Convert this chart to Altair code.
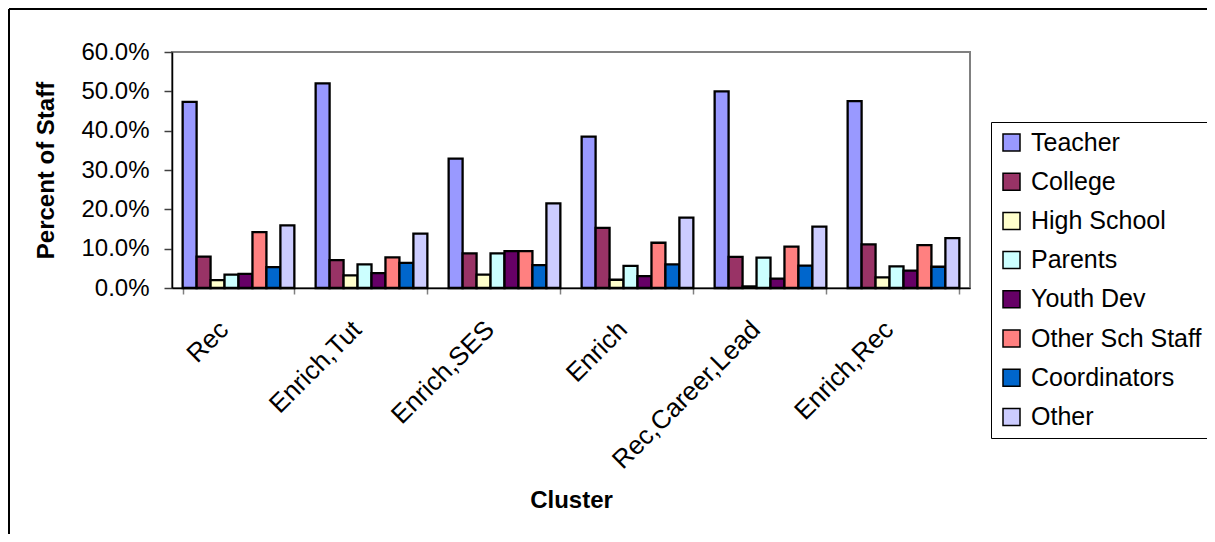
import altair as alt
import pandas as pd

clusters = ["Rec", "Enrich,Tut", "Enrich,SES", "Enrich", "Rec,Career,Lead", "Enrich,Rec"]
roles = ["Teacher", "College", "High School", "Parents", "Youth Dev",
         "Other Sch Staff", "Coordinators", "Other"]
colors = ["#9999FF", "#993366", "#FFFFCC", "#CCFFFF", "#660066",
          "#FF8080", "#0066CC", "#CCCCFF"]

# percent of staff per role, one list per cluster (in role order)
rec = [47.3, 8.0, 2.0, 3.4, 3.6, 14.2, 5.3, 15.9]
enrich_tut = [52.0, 7.1, 3.2, 6.0, 3.8, 7.8, 6.4, 13.8]
enrich_ses = [32.9, 8.8, 3.4, 8.8, 9.4, 9.4, 5.8, 21.5]
enrich = [38.5, 15.3, 2.1, 5.6, 3.0, 11.5, 6.0, 17.9]
rec_career_lead = [50.0, 7.9, 0.4, 7.7, 2.4, 10.5, 5.7, 15.6]
enrich_rec = [47.5, 11.1, 2.7, 5.5, 4.4, 10.9, 5.4, 12.7]

series = [rec, enrich_tut, enrich_ses, enrich, rec_career_lead, enrich_rec]
rows = []
for c, vals in zip(clusters, series):
    for r, v in zip(roles, vals):
        rows.append({"Cluster": c, "Role": r, "Value": v / 100.0})
df = pd.DataFrame(rows)

FONT = "Liberation Sans"

bars = alt.Chart(df).mark_bar(stroke="black", strokeWidth=2.3, opacity=1).encode(
    x=alt.X("Cluster:N", sort=clusters,
            scale=alt.Scale(paddingInner=0.16, paddingOuter=0.08),
            axis=alt.Axis(title="Cluster", labelAngle=-45, labelFontSize=26,
                          labelFont=FONT, labelColor="black", tickBand="extent",
                          labelAlign="right", labelBaseline="top",
                          labelLimit=400, labelOffset=-24,
                          tickSize=6, tickColor="#808080", tickWidth=1.5,
                          domainColor="black", domainWidth=1.5,
                          labelPadding=22,
                          titleFontSize=24, titleFont=FONT, titleFontWeight="bold",
                          titleX=399, titleY=212, titleBaseline="middle",
                          titleAlign="center")),
    xOffset=alt.XOffset("Role:N", sort=roles, scale=alt.Scale(paddingInner=0, paddingOuter=0)),
    y=alt.Y("Value:Q", scale=alt.Scale(domain=[0, 0.6]),
            axis=alt.Axis(title="Percent of Staff", format=".1%",
                          values=[0, 0.1, 0.2, 0.3, 0.4, 0.5, 0.6],
                          labelFontSize=24, labelFont=FONT, labelColor="black",
                          tickSize=8, tickColor="#404040", tickWidth=1.5,
                          labelPadding=15, domainColor="black", domainWidth=1.5,
                          grid=False,
                          titleFontSize=24, titleFont=FONT, titleFontWeight="bold",
                          titleX=-126, titleY=118, titleAngle=-90,
                          titleBaseline="middle", titleAlign="center")),
    color=alt.Color("Role:N", sort=roles,
                    scale=alt.Scale(domain=roles, range=colors),
                    legend=alt.Legend(title=None, orient="none", legendX=819, legendY=70,
                                      strokeColor="black", fillColor="white", padding=8,
                                      symbolType="square", symbolSize=289,
                                      symbolStrokeColor="black", symbolStrokeWidth=1.5,
                                      symbolOpacity=1,
                                      labelFontSize=25, labelFont=FONT, labelColor="black",
                                      labelOffset=7, rowPadding=13.2, labelLimit=400)),
)

frame_left = alt.Chart(df).mark_rule(color="black", strokeWidth=1.5).encode(
    x=alt.value(-163), y=alt.value(-43), y2=alt.value(500))
frame_top = alt.Chart(df).mark_rule(color="black", strokeWidth=1.5).encode(
    x=alt.value(-163), x2=alt.value(1040), y=alt.value(-43))

chart = alt.layer(frame_left, frame_top, bars).properties(
    width=798, height=236,
    autosize=alt.AutoSizeParams(type="none"),
    padding={"left": 164, "top": 44, "right": 237, "bottom": 246},
    background="white",
).configure_view(stroke="#808080", strokeWidth=2)

chart.save("out.html", embed_options={"renderer": "svg", "actions": False})
